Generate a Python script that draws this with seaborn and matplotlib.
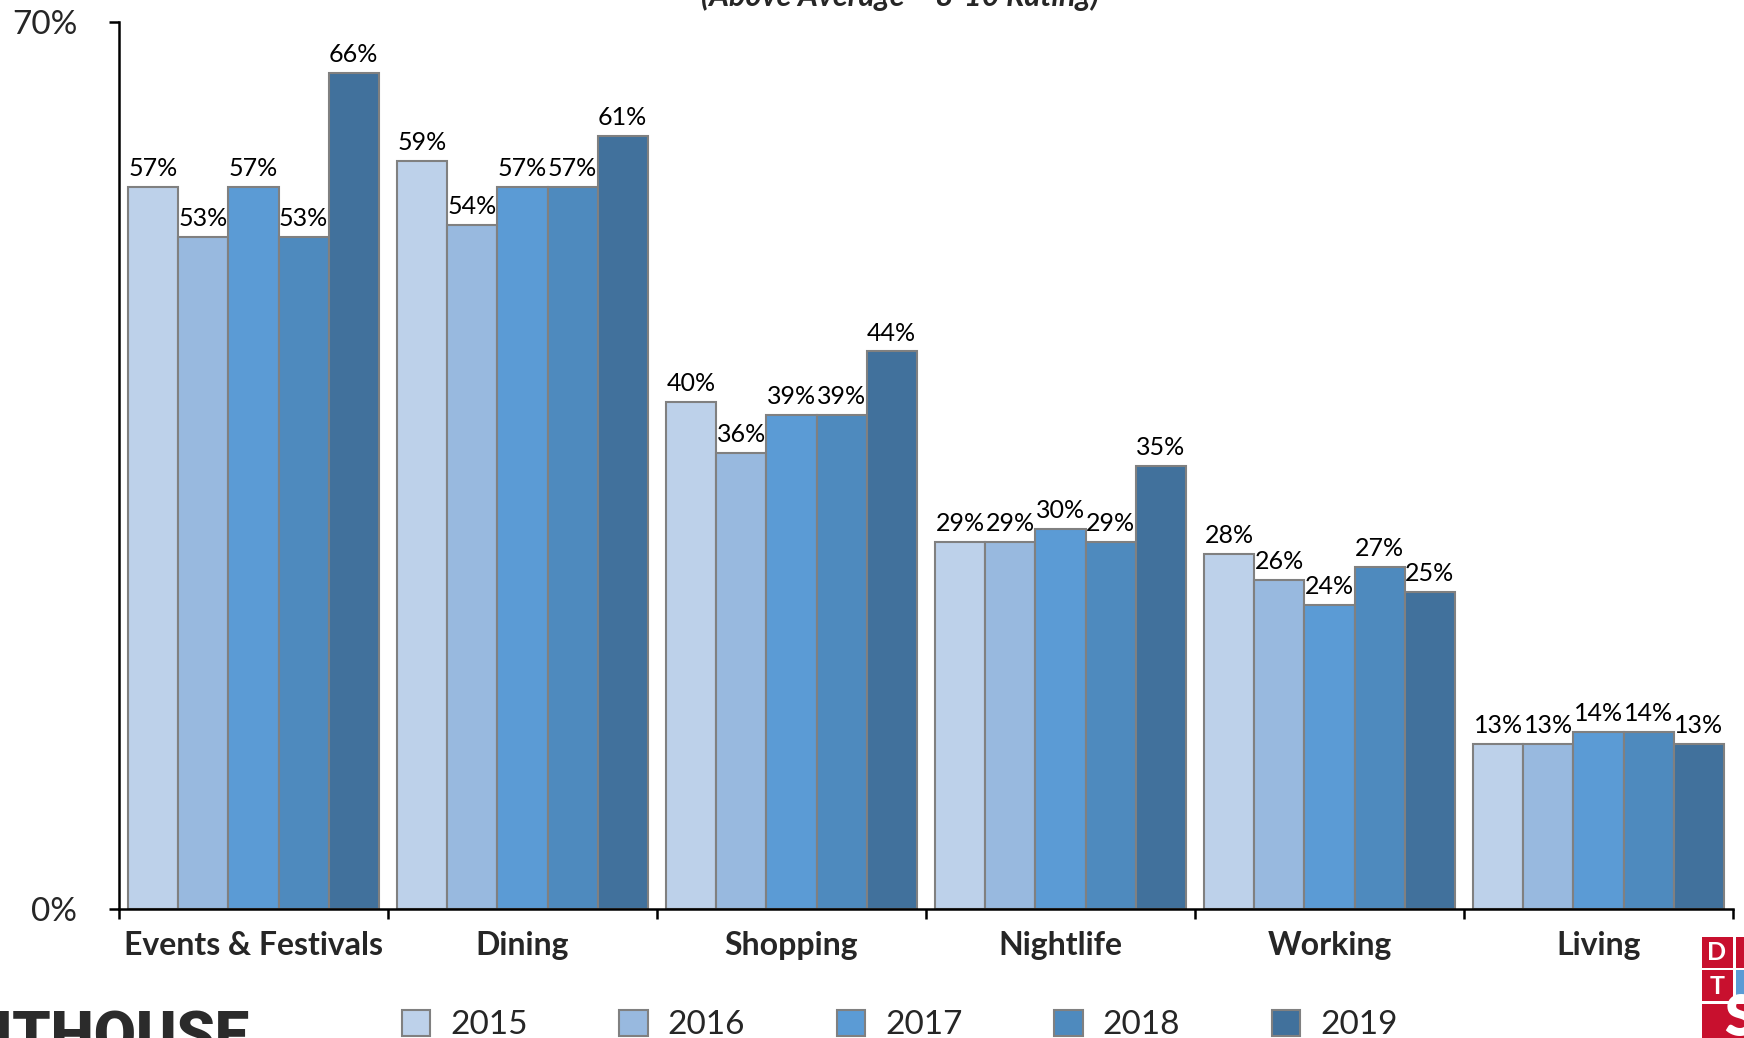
import matplotlib
matplotlib.use("Agg")
import matplotlib.pyplot as plt
import seaborn as sns
import pandas as pd
from matplotlib.patches import Patch, Rectangle

categories = ["Events & Festivals", "Dining", "Shopping", "Nightlife", "Working", "Living"]
years = ["2015", "2016", "2017", "2018", "2019"]
v2015 = [57, 59, 40, 29, 28, 13]
v2016 = [53, 54, 36, 29, 26, 13]
v2017 = [57, 57, 39, 30, 24, 14]
v2018 = [53, 57, 39, 29, 27, 14]
v2019 = [66, 61, 44, 35, 25, 13]
colors = ["#BDD1EA", "#98B9DF", "#5B9BD5", "#4E8ABE", "#41719C"]
title_text = "(Above Average = 8-10 Rating)"

series = [v2015, v2016, v2017, v2018, v2019]
rows = []
for y, vals in zip(years, series):
    for c, v in zip(categories, vals):
        rows.append({"cat": c, "year": y, "val": v})
df = pd.DataFrame(rows)

sns.set_theme(style="white")
plt.rcParams["font.family"] = ["Lato", "DejaVu Sans"]

fig = plt.figure(figsize=(17.44, 10.38), dpi=100)
ax = fig.add_axes([119/1744, 1 - 909/1038, (1733-119)/1744, (909-22)/1038])

sns.barplot(data=df, x="cat", y="val", hue="year", hue_order=years, order=categories,
            palette=colors, width=0.93, edgecolor="#808080", linewidth=1.5,
            saturation=1, legend=False, ax=ax, errorbar=None)

for cont, vals in zip(ax.containers, series):
    ax.bar_label(cont, labels=[f"{v}%" for v in vals], padding=5, fontsize=18, color="black")

ax.set_ylim(0, 70)
ax.set_xlim(-0.5, 5.5)
ax.set_yticks([0, 70])
ax.set_yticklabels(["0%", "70%"], fontsize=24)
ax.set_xticks(range(len(categories)))
ax.set_xticklabels(categories, fontsize=23, fontweight="bold")
ax.set_xticks([i - 0.5 for i in range(len(categories) + 1)], minor=True)
ax.tick_params(axis="x", which="major", length=0, pad=16)
ax.tick_params(axis="x", which="minor", length=7, width=1.8, color="black", bottom=True, direction="out")
ax.tick_params(axis="y", length=7, width=1.8, color="black", left=True, direction="out", pad=23)
ax.set_xlabel("")
ax.set_ylabel("")
for s in ["top", "right"]:
    ax.spines[s].set_visible(False)
for s in ["left", "bottom"]:
    ax.spines[s].set_color("black")
    ax.spines[s].set_linewidth(1.8)

handles = [Patch(facecolor=c, edgecolor="#808080", linewidth=1.5, label=y) for c, y in zip(colors, years)]
fig.legend(handles=handles, loc="center", bbox_to_anchor=(0.516, 1 - 1025/1038), ncol=5,
           frameon=False, fontsize=24, handlelength=0.85, handleheight=0.85,
           handletextpad=0.6, columnspacing=2.75)

fig.text(900/1744, 1 - 6/1038, title_text, ha="center", va="baseline", fontsize=22,
         fontweight="bold", fontstyle="italic")

# Lighthouse logo (cropped)
fig.text(250/1744, 1 - 1010/1038, "LIGHTHOUSE", ha="right", va="top", fontsize=44,
         fontweight="black", color="#2b2b2b", family="Roboto")

# DTS logo (cropped)
red = "#C8102E"
def sq(x0, y0, w, h, color):
    fig.patches.append(Rectangle((x0/1744, 1 - (y0 + h)/1038), w/1744, h/1038,
                                 transform=fig.transFigure, facecolor=color, edgecolor="none"))
sq(1702, 937, 31, 31, red)
sq(1736, 937, 31, 31, red)
sq(1702, 970, 31, 31, red)
sq(1736, 970, 31, 31, "#5B9BD5")
sq(1702, 1004, 70, 60, red)
fig.text(1717/1744, 1 - 953/1038, "D", ha="center", va="center", color="white", fontsize=18, fontweight="bold")
fig.text(1717/1744, 1 - 986/1038, "T", ha="center", va="center", color="white", fontsize=18, fontweight="bold")
fig.text(1740/1744, 1 - 1045/1038, "S", ha="center", va="bottom", color="white", fontsize=40, fontweight="heavy")

fig.savefig("out.png", dpi=100)
